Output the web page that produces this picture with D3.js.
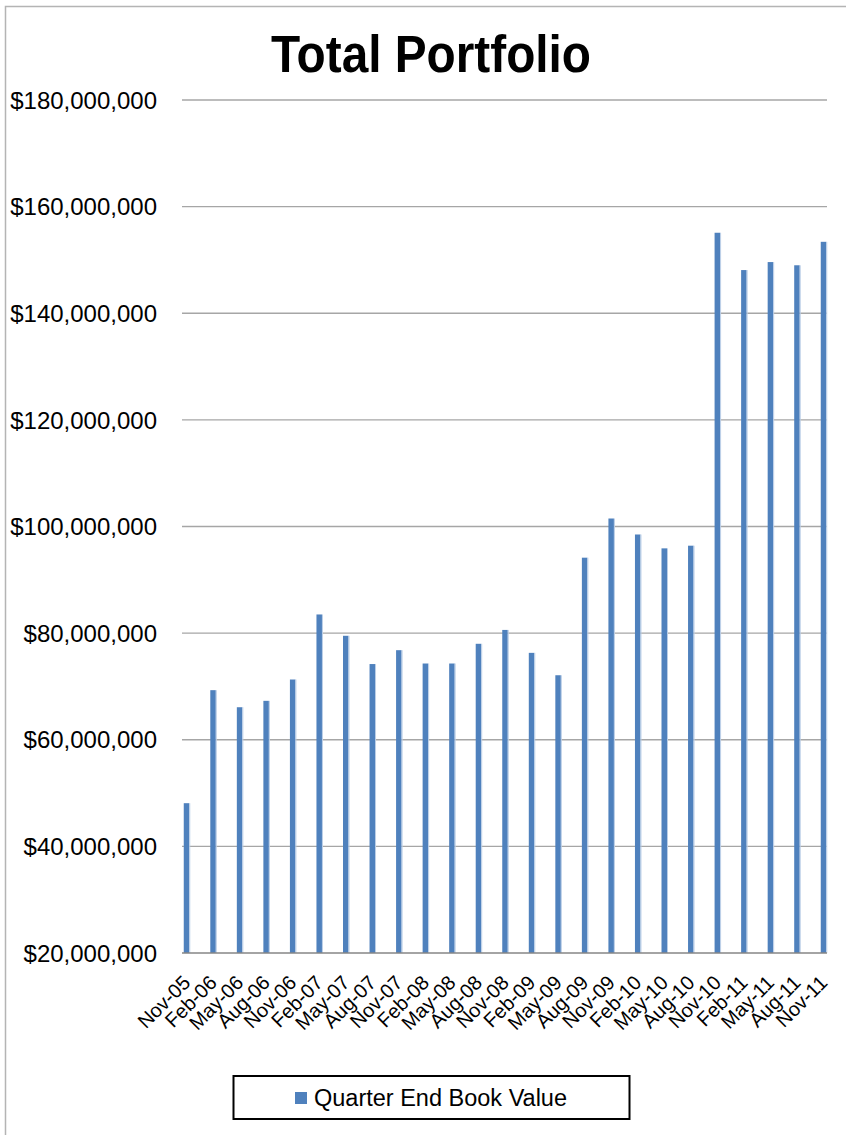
<!DOCTYPE html>
<html>
<head>
<meta charset="utf-8">
<script src="https://cdn.jsdelivr.net/npm/d3@7"></script>
<style>
  body { margin: 0; background: #fff; }
  svg { display: block; }
</style>
</head>
<body>
<svg width="846" height="1135"></svg>
<script>
// Data (values in dollars)
const quarters = ["Nov-05", "Feb-06", "May-06", "Aug-06", "Nov-06", "Feb-07", "May-07", "Aug-07",
  "Nov-07", "Feb-08", "May-08", "Aug-08", "Nov-08", "Feb-09", "May-09", "Aug-09", "Nov-09",
  "Feb-10", "May-10", "Aug-10", "Nov-10", "Feb-11", "May-11", "Aug-11", "Nov-11"];
const bookValues = [48.1, 69.3, 66.1, 67.3, 71.3, 83.5, 79.5, 74.2, 76.8, 74.3, 74.3, 78.0,
  80.6, 76.3, 72.1, 94.15, 101.5, 98.5, 95.9, 96.4, 155.1, 148.1, 149.6, 149.0, 153.4].map(v => v * 1e6);
const yTicks = [20, 40, 60, 80, 100, 120, 140, 160, 180].map(v => v * 1e6);
const seriesName = "Quarter End Book Value";
const chartTitle = "Total Portfolio";

const svg = d3.select("svg");
const width = +svg.attr("width");
const height = +svg.attr("height");

// outer chart frame (cut off at right and bottom)
svg.append("path")
  .attr("d", `M5.5,${height} V6.5 H${width}`)
  .attr("fill", "none")
  .attr("stroke", "#b4b4b4")
  .attr("stroke-width", 1.5);

// title
svg.append("text")
  .attr("x", 431)
  .attr("y", 72)
  .attr("text-anchor", "middle")
  .attr("font-family", "Liberation Sans, Arial, sans-serif")
  .attr("font-weight", "bold")
  .attr("font-size", 51)
  .attr("textLength", 320)
  .attr("lengthAdjust", "spacingAndGlyphs")
  .text(chartTitle);

// scales
const plotLeft = 182, plotRight = 827;
const x = d3.scalePoint().domain(quarters).range([186.5, 823.5]);
const y = d3.scaleLinear().domain([20e6, 180e6]).range([953, 100]);

// gridlines
svg.append("g")
  .selectAll("line")
  .data(yTicks.slice(1))
  .join("line")
  .attr("x1", plotLeft)
  .attr("x2", plotRight)
  .attr("y1", d => y(d))
  .attr("y2", d => y(d))
  .attr("stroke", "#a6a6a6")
  .attr("stroke-width", 1.3);

// y labels
const fmt = d3.format("$,.0f");
svg.append("g")
  .selectAll("text")
  .data(yTicks)
  .join("text")
  .attr("x", 157)
  .attr("y", d => y(d))
  .attr("dy", "0.36em")
  .attr("text-anchor", "end")
  .attr("font-family", "Liberation Sans, Arial, sans-serif")
  .attr("font-size", 24)
  .attr("fill", "#000")
  .text(d => fmt(d));

// bars
const barW = 5.5;
svg.append("g")
  .selectAll("rect")
  .data(bookValues)
  .join("rect")
  .attr("x", (d, i) => x(quarters[i]) - barW / 2)
  .attr("y", d => y(d))
  .attr("width", barW)
  .attr("height", d => y(20e6) - y(d))
  .attr("fill", "#4f81bd");

// light edge on the right of each bar
svg.append("g")
  .selectAll("line")
  .data(bookValues)
  .join("line")
  .attr("x1", (d, i) => x(quarters[i]) + barW / 2 + 0.5)
  .attr("x2", (d, i) => x(quarters[i]) + barW / 2 + 0.5)
  .attr("y1", d => y(d))
  .attr("y2", y(20e6))
  .attr("stroke", "#b9cde6")
  .attr("stroke-width", 1);

// x axis line
svg.append("line")
  .attr("x1", plotLeft)
  .attr("x2", plotRight)
  .attr("y1", y(20e6))
  .attr("y2", y(20e6))
  .attr("stroke", "#868686")
  .attr("stroke-width", 1.5);

// x labels, rotated
svg.append("g")
  .selectAll("text")
  .data(quarters)
  .join("text")
  .attr("transform", d => `translate(${x(d) + 5},${984}) rotate(-45)`)
  .attr("text-anchor", "end")
  .attr("font-family", "Liberation Sans, Arial, sans-serif")
  .attr("font-size", 20)
  .attr("fill", "#000")
  .text(d => d);

// legend
const legend = svg.append("g");
legend.append("rect")
  .attr("x", 233.5)
  .attr("y", 1076)
  .attr("width", 396)
  .attr("height", 43)
  .attr("fill", "#fff")
  .attr("stroke", "#000")
  .attr("stroke-width", 2);
legend.append("rect")
  .attr("x", 295)
  .attr("y", 1092)
  .attr("width", 12)
  .attr("height", 12)
  .attr("fill", "#4f81bd");
legend.append("text")
  .attr("x", 314)
  .attr("y", 1106)
  .attr("font-family", "Liberation Sans, Arial, sans-serif")
  .attr("font-size", 23.5)
  .attr("fill", "#000")
  .text(seriesName);
</script>
</body>
</html>
